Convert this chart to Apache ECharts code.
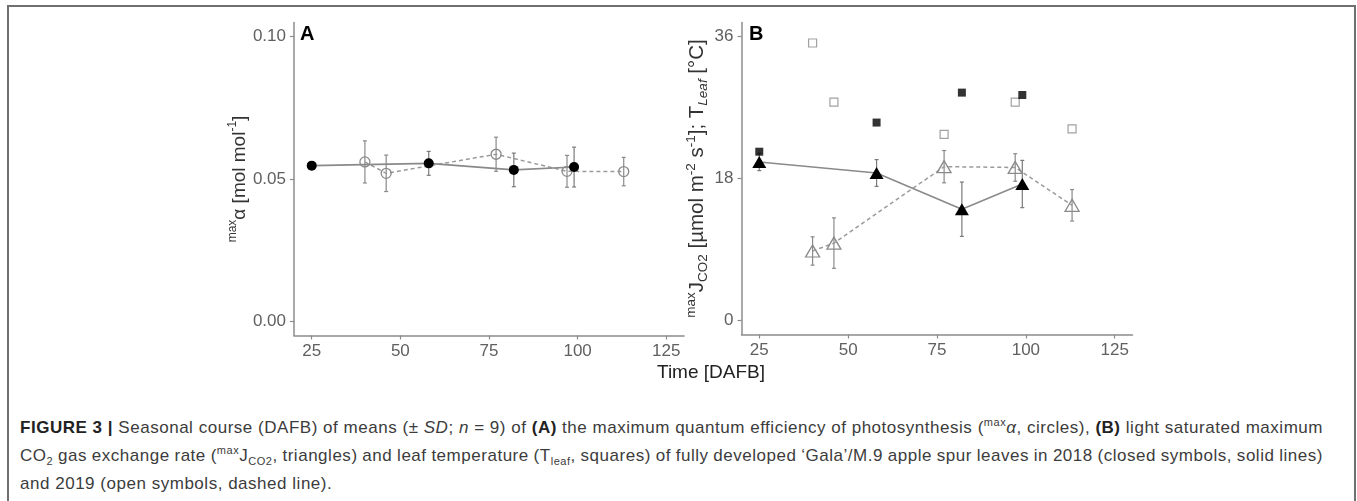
<!DOCTYPE html>
<html><head><meta charset="utf-8">
<script src="https://cdn.jsdelivr.net/npm/echarts@6/dist/echarts.min.js"></script>
<style>
body{margin:0;background:#fff;}
#wrap{position:relative;width:1357px;height:501px;overflow:hidden;background:#fff}
#frame{position:absolute;left:7px;top:5px;width:1349px;height:560px;border:2px solid #707070;border-bottom:none;box-sizing:border-box}
#chart{position:absolute;left:0;top:0;width:1357px;height:400px}
.cap{position:absolute;left:20px;font-family:'Liberation Sans',Arial,sans-serif;font-size:17px;line-height:20px;color:#3c3c3c;white-space:nowrap}
.cap b{color:#222}
.cap sup,.cap sub{font-size:11px;line-height:0}
</style></head>
<body><div id="wrap">
<div id="frame"></div>
<div id="chart"></div>
<div class="cap" id="l1" style="top:418px"><b>FIGURE 3 |</b> Seasonal course (DAFB) of means (± <i>SD</i>; <i>n</i> = 9) of <b>(A)</b> the maximum quantum efficiency of photosynthesis (<sup>max</sup><i>α</i>, circles), <b>(B)</b> light saturated maximum</div>
<div class="cap" id="l2" style="top:446px">CO<sub>2</sub> gas exchange rate (<sup>max</sup>J<sub>CO2</sub>, triangles) and leaf temperature (T<sub>leaf</sub>, squares) of fully developed ‘Gala’/M.9 apple spur leaves in 2018 (closed symbols, solid lines)</div>
<div class="cap" id="l3" style="top:474px">and 2019 (open symbols, dashed line).</div>
</div>
<script>
// ---- data ----
const days2018 = [25, 58, 82, 99];
const days2019 = [40, 46, 77, 97, 113];
const alpha2018 = [0.0547, 0.0555, 0.0532, 0.0542];
const alphaSD2018 = [0.0010, 0.0042, 0.0059, 0.0070];
const alpha2019 = [0.0560, 0.0520, 0.0587, 0.0527, 0.0526];
const alphaSD2019 = [0.0074, 0.0064, 0.0060, 0.0056, 0.0050];
const jco2_2018 = [20.1, 18.7, 14.1, 17.3];
const jco2SD2018 = [1.1, 1.7, 3.45, 3.0];
const jco2_2019 = [8.8, 9.8, 19.5, 19.4, 14.6];
const jco2SD2019 = [1.8, 3.2, 2.05, 1.75, 2.0];
const tleaf2018 = [21.4, 25.1, 28.9, 28.6];
const tleaf2019 = [35.2, 27.7, 23.6, 27.7, 24.3];
const xTicks = [25, 50, 75, 100, 125];
const alphaTicks = [0, 0.05, 0.10];
const jTicks = [0, 18, 36];

const ff = "'Liberation Sans', Arial, sans-serif";
const axisCol = '#8c8c8c';
const pts = (xs, ys) => xs.map((x, i) => [x, ys[i]]);
const errs = (xs, ys, sd) => xs.map((x, i) => [x, ys[i] - sd[i], ys[i] + sd[i]]);

function errRender(color) {
  return function (params, api) {
    const x = api.value(0), lo = api.value(1), hi = api.value(2);
    const p1 = api.coord([x, lo]), p2 = api.coord([x, hi]);
    const cap = 2;
    const st = { stroke: color, lineWidth: 1.2 };
    return { type: 'group', children: [
      { type: 'line', shape: { x1: p1[0], y1: p1[1], x2: p2[0], y2: p2[1] }, style: st },
      { type: 'line', shape: { x1: p1[0] - cap, y1: p1[1], x2: p1[0] + cap, y2: p1[1] }, style: st },
      { type: 'line', shape: { x1: p2[0] - cap, y1: p2[1], x2: p2[0] + cap, y2: p2[1] }, style: st }
    ]};
  };
}

function nameRich(fs, sfs) {
  return {
    m: { fontFamily: ff, fontSize: fs, lineHeight: 26, color: '#333' },
    sup: { fontFamily: ff, fontSize: sfs, lineHeight: 12, verticalAlign: 'top', color: '#333' },
    sub: { fontFamily: ff, fontSize: sfs, lineHeight: 12, verticalAlign: 'bottom', color: '#333' },
    subi: { fontFamily: ff, fontSize: sfs, lineHeight: 12, verticalAlign: 'bottom', fontStyle: 'italic', color: '#333' }
  };
}

function xAx(i) {
  return {
    type: 'value', gridIndex: i, min: 20, max: 130,
    axisLine: { onZero: false, lineStyle: { color: axisCol, width: 1.5 } },
    axisTick: { show: true, customValues: xTicks, length: 4, lineStyle: { color: axisCol, width: 1.2 } },
    axisLabel: { customValues: xTicks, fontSize: 17, fontFamily: ff, color: '#606060', margin: 7 },
    splitLine: { show: false }
  };
}

const option = {
  animation: false,
  textStyle: { fontFamily: ff },
  grid: [
    { left: 294, top: 22.5, width: 390, height: 313 },
    { left: 741.5, top: 22.5, width: 391, height: 312 }
  ],
  xAxis: [xAx(0), xAx(1)],
  yAxis: [
    {
      type: 'value', gridIndex: 0, min: -0.005, max: 0.105,
      axisLine: { onZero: false, lineStyle: { color: axisCol, width: 1.5 } },
      axisTick: { show: true, customValues: alphaTicks, length: 4, lineStyle: { color: axisCol, width: 1.2 } },
      axisLabel: { customValues: alphaTicks, formatter: v => v.toFixed(2), fontSize: 17, fontFamily: ff, color: '#606060', margin: 8 },
      splitLine: { show: false },
      name: '{sup|max}{m|α [mol mol}{sup|-1}{m|]}',
      nameLocation: 'middle', nameRotate: 90, nameGap: 38,
      nameTextStyle: { rich: nameRich(19, 12) }
    },
    {
      type: 'value', gridIndex: 1, min: -1.8, max: 37.8,
      axisLine: { onZero: false, lineStyle: { color: axisCol, width: 1.5 } },
      axisTick: { show: true, customValues: jTicks, length: 4, lineStyle: { color: axisCol, width: 1.2 } },
      axisLabel: { customValues: jTicks, fontSize: 17, fontFamily: ff, color: '#606060', margin: 8 },
      splitLine: { show: false },
      name: '{sup|max}{m|J}{sub|CO2}{m| [µmol m}{sup|-2}{m| s}{sup|-1}{m|]; T}{subi|Leaf}{m| [°C]}',
      nameLocation: 'middle', nameRotate: 90, nameGap: 26,
      nameTextStyle: { rich: nameRich(20.5, 13.5) }
    }
  ],
  series: [
    // Panel A
    { type: 'custom', xAxisIndex: 0, yAxisIndex: 0, renderItem: errRender('#8a8a8a'), encode: { x: 0, y: [1, 2] }, data: errs(days2019, alpha2019, alphaSD2019), z: 2, silent: true },
    { type: 'custom', xAxisIndex: 0, yAxisIndex: 0, renderItem: errRender('#7a7a7a'), encode: { x: 0, y: [1, 2] }, data: errs(days2018, alpha2018, alphaSD2018), z: 2, silent: true },
    { type: 'line', xAxisIndex: 0, yAxisIndex: 0, data: pts(days2019, alpha2019), z: 3, silent: true,
      lineStyle: { color: '#9a9a9a', width: 1.5, type: [4, 3] },
      symbol: 'circle', symbolSize: 10, itemStyle: { color: 'rgba(0,0,0,0)', borderColor: '#8a8a8a', borderWidth: 1.3 } },
    { type: 'line', xAxisIndex: 0, yAxisIndex: 0, data: pts(days2018, alpha2018), z: 4, silent: true,
      lineStyle: { color: '#8a8a8a', width: 1.6 },
      symbol: 'circle', symbolSize: 10, itemStyle: { color: '#000' } },
    // Panel B
    { type: 'custom', xAxisIndex: 1, yAxisIndex: 1, renderItem: errRender('#8a8a8a'), encode: { x: 0, y: [1, 2] }, data: errs(days2019, jco2_2019, jco2SD2019), z: 2, silent: true },
    { type: 'custom', xAxisIndex: 1, yAxisIndex: 1, renderItem: errRender('#7a7a7a'), encode: { x: 0, y: [1, 2] }, data: errs(days2018, jco2_2018, jco2SD2018), z: 2, silent: true },
    { type: 'line', xAxisIndex: 1, yAxisIndex: 1, data: pts(days2019, jco2_2019), z: 3, silent: true,
      lineStyle: { color: '#9a9a9a', width: 1.5, type: [4, 3] },
      symbol: 'triangle', symbolSize: [14, 12], itemStyle: { color: 'rgba(0,0,0,0)', borderColor: '#8a8a8a', borderWidth: 1.3 } },
    { type: 'line', xAxisIndex: 1, yAxisIndex: 1, data: pts(days2018, jco2_2018), z: 4, silent: true,
      lineStyle: { color: '#8a8a8a', width: 1.6 },
      symbol: 'triangle', symbolSize: [14, 12], itemStyle: { color: '#000' } },
    { type: 'scatter', xAxisIndex: 1, yAxisIndex: 1, data: pts(days2019, tleaf2019), z: 3, silent: true,
      symbol: 'rect', symbolSize: 8, itemStyle: { color: 'rgba(0,0,0,0)', borderColor: '#8a8a8a', borderWidth: 1.2 } },
    { type: 'scatter', xAxisIndex: 1, yAxisIndex: 1, data: pts(days2018, tleaf2018), z: 4, silent: true,
      symbol: 'rect', symbolSize: 8, itemStyle: { color: '#000' } }
  ],
  graphic: [
    { type: 'text', left: 300, top: 24, style: { text: 'A', fontFamily: ff, fontSize: 20, fontWeight: 'bold', fill: '#000' } },
    { type: 'text', left: 749, top: 24, style: { text: 'B', fontFamily: ff, fontSize: 20, fontWeight: 'bold', fill: '#000' } },
    { type: 'text', x: 711, y: 373, style: { text: 'Time [DAFB]', fontFamily: ff, fontSize: 19, fill: '#222', align: 'center', verticalAlign: 'middle' } }
  ]
};

const chart = echarts.init(document.getElementById('chart'), null, { renderer: 'canvas' });
chart.setOption(option);

// stretch caption lines 1 and 2 to the width used in the figure
const target = 1303;
const l1 = document.getElementById('l1');
const n1 = l1.textContent.length;
const w1 = l1.getBoundingClientRect().width;
const ls = (target - w1) / n1;
['l1', 'l2', 'l3'].forEach(id => { document.getElementById(id).style.letterSpacing = ls + 'px'; });
['l1', 'l2'].forEach(id => {
  const el = document.getElementById(id);
  const w = el.getBoundingClientRect().width;
  const spaces = (el.textContent.match(/ /g) || []).length;
  if (spaces > 0) el.style.wordSpacing = ((target - w) / spaces) + 'px';
});
</script>
</body></html>
